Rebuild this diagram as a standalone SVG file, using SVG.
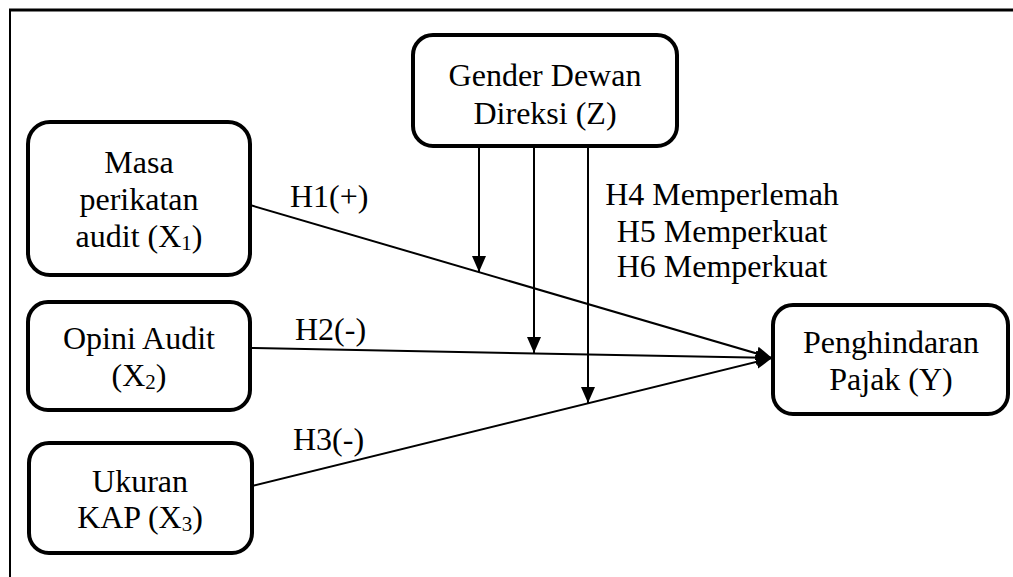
<svg xmlns="http://www.w3.org/2000/svg" width="1013" height="577" viewBox="0 0 1013 577">
<style>
.box{fill:#fff;stroke:#000;stroke-width:4}
.t{font-family:"Liberation Serif","Times New Roman",serif;font-size:32px;fill:#000;text-anchor:middle}
.lbl{font-family:"Liberation Serif","Times New Roman",serif;font-size:32px;fill:#000}
.sub{font-size:21px}
.c{fill:none;stroke:#000;stroke-width:2}
.frame{fill:none;stroke:#000}
</style>
<defs>
<marker id="ah" viewBox="0 0 16 14" refX="16" refY="7" markerWidth="16" markerHeight="14" markerUnits="userSpaceOnUse" orient="auto">
<path d="M0,0 L16,7 L0,14 Z" fill="#000"/>
</marker>
</defs>
<rect width="1013" height="577" fill="#fff"/>
<g id="frame">
<line class="frame" x1="9" y1="10" x2="1013" y2="10" stroke-width="3"/>
<line class="frame" x1="10" y1="9" x2="10" y2="577" stroke-width="2"/>
</g>
<g id="connectors">
<line class="c" x1="250" y1="205" x2="772" y2="358" marker-end="url(#ah)"/>
<line class="c" x1="250" y1="348" x2="772" y2="358" marker-end="url(#ah)"/>
<line class="c" x1="252" y1="486" x2="772" y2="358" marker-end="url(#ah)"/>
<line class="c" x1="479" y1="147" x2="479" y2="272" marker-end="url(#ah)"/>
<line class="c" x1="534" y1="147" x2="534" y2="353" marker-end="url(#ah)"/>
<line class="c" x1="588" y1="147" x2="588" y2="403" marker-end="url(#ah)"/>
</g>
<g id="labels">
<text class="lbl" x="290" y="207">H1(+)</text>
<text class="lbl" x="295" y="340">H2(-)</text>
<text class="lbl" x="293" y="450">H3(-)</text>
<text class="t" x="722" y="205">H4 Memperlemah</text>
<text class="t" x="722" y="242">H5 Memperkuat</text>
<text class="t" x="722" y="277">H6 Memperkuat</text>
</g>
<g id="node-z">
<rect class="box" x="413" y="35" width="264" height="111" rx="20"/>
<text class="t" x="545" y="86">Gender Dewan</text>
<text class="t" x="545" y="124">Direksi (Z)</text>
</g>
<g id="node-x1">
<rect class="box" x="28" y="122" width="222" height="153" rx="22"/>
<text class="t" x="139" y="173">Masa</text>
<text class="t" x="139" y="210">perikatan</text>
<text class="t" x="139" y="247">audit (X<tspan class="sub" dy="3">1</tspan><tspan dy="-3">)</tspan></text>
</g>
<g id="node-x2">
<rect class="box" x="28" y="302" width="222" height="108" rx="20"/>
<text class="t" x="139" y="349">Opini Audit</text>
<text class="t" x="139" y="386">(X<tspan class="sub" dy="3">2</tspan><tspan dy="-3">)</tspan></text>
</g>
<g id="node-x3">
<rect class="box" x="29" y="443" width="223" height="110" rx="20"/>
<text class="t" x="140" y="492">Ukuran</text>
<text class="t" x="140" y="528">KAP (X<tspan class="sub" dy="3">3</tspan><tspan dy="-3">)</tspan></text>
</g>
<g id="node-y">
<rect class="box" x="773" y="305" width="235" height="109" rx="20"/>
<text class="t" x="891" y="353">Penghindaran</text>
<text class="t" x="891" y="390">Pajak (Y)</text>
</g>
</svg>
